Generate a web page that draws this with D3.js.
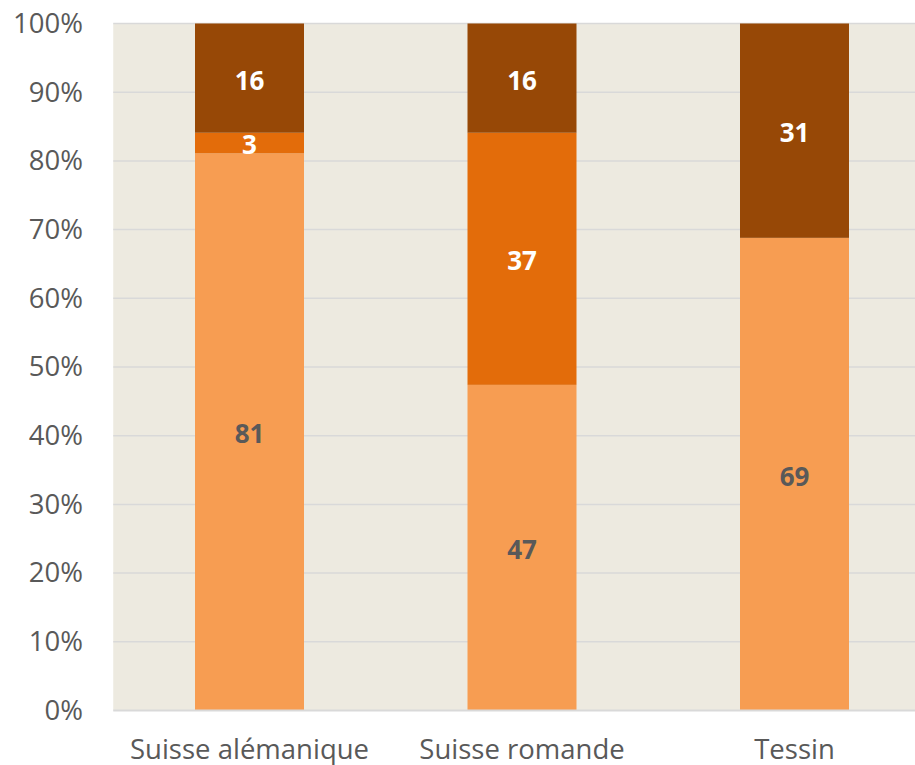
<!DOCTYPE html>
<html><head><meta charset="utf-8">
<script src="https://cdn.jsdelivr.net/npm/d3@7"></script>
<style>body{margin:0;background:#fff;}svg{display:block;}</style>
</head><body>
<script>
const categories = ["Suisse alémanique", "Suisse romande", "Tessin"];
const seriesNames = ["s1", "s2", "s3"];
const s1 = [81.1, 47.4, 68.8];
const s2 = [3.0, 36.7, 0];
const s3 = [15.9, 15.9, 31.2];
const colors = ["#F79D52", "#E36C0A", "#974806"];
const labelColors = ["#595959", "#FFFFFF", "#FFFFFF"];
const yTicks = [0, 10, 20, 30, 40, 50, 60, 70, 80, 90, 100];

const W = 915, H = 765;
const svg = d3.select("body").append("svg").attr("width", W).attr("height", H);
const pLeft = 113.25, pRight = 930.75, pTop = 23.5, pBottom = 710.5;

svg.append("rect").attr("x", pLeft).attr("y", pTop).attr("width", pRight - pLeft).attr("height", pBottom - pTop).attr("fill", "#EDEAE0");

const x = d3.scaleBand().domain(categories).range([pLeft, pRight]).paddingInner(0.6).paddingOuter(0.3);
const y = d3.scaleLinear().domain([0, 100]).range([pBottom, pTop]);

// gridlines
svg.append("g").selectAll("line").data(yTicks.filter(t => t > 0)).join("line")
  .attr("x1", pLeft).attr("x2", pRight).attr("y1", d => y(d)).attr("y2", d => y(d))
  .attr("stroke", "#D9D9D9").attr("stroke-width", 1.5);

const table = categories.map((c, i) => ({cat: c, s1: s1[i], s2: s2[i], s3: s3[i]}));
const stack = d3.stack().keys(seriesNames)(table);

stack.forEach((layer, li) => {
  svg.append("g").selectAll("rect").data(layer.filter(d => d[1] - d[0] > 0)).join("rect")
    .attr("x", d => x(d.data.cat)).attr("width", x.bandwidth())
    .attr("y", d => y(d[1])).attr("height", d => y(d[0]) - y(d[1]))
    .attr("fill", colors[li]);
});
stack.forEach((layer, li) => {
  svg.append("g").selectAll("text").data(layer.filter(d => d[1] - d[0] > 0)).join("text")
    .attr("x", d => x(d.data.cat) + x.bandwidth() / 2)
    .attr("y", d => y((d[0] + d[1]) / 2))
    .attr("dy", "0.44em")
    .attr("text-anchor", "middle")
    .attr("font-family", "'Open Sans', sans-serif").attr("font-weight", "bold").attr("font-size", 26)
    .attr("fill", labelColors[li])
    .text(d => Math.round(d[1] - d[0]));
});

// bottom axis line
svg.append("line").attr("x1", pLeft).attr("x2", pRight).attr("y1", pBottom).attr("y2", pBottom)
  .attr("stroke", "#D9D9D9").attr("stroke-width", 2);

// y axis labels
const yAxis = d3.axisLeft(y).tickValues(yTicks).tickFormat(d => d + "%").tickSize(0).tickPadding(0);
const gy = svg.append("g").attr("transform", `translate(83,0)`).call(yAxis);
gy.select(".domain").remove();
gy.selectAll("text").attr("font-family", "'Open Sans', sans-serif").attr("font-size", 27.5).attr("fill", "#595959");

// x axis labels
const xAxis = d3.axisBottom(x).tickSize(0).tickPadding(0);
const gx = svg.append("g").attr("transform", `translate(0,739)`).call(xAxis);
gx.select(".domain").remove();
gx.selectAll("text").attr("font-family", "'Open Sans', sans-serif").attr("font-size", 27.5).attr("fill", "#595959");
</script>
</body></html>
